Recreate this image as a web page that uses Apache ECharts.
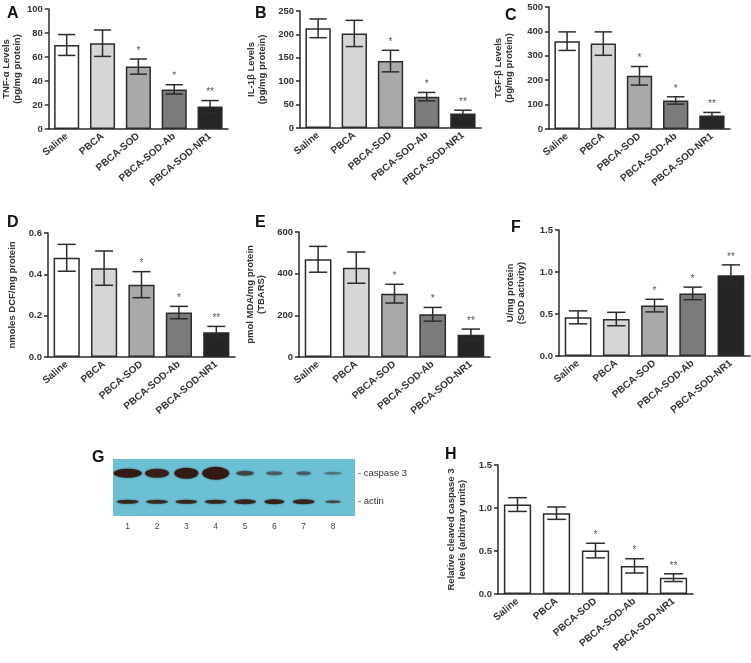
<!DOCTYPE html>
<html><head><meta charset="utf-8">
<script src="https://cdn.jsdelivr.net/npm/echarts@6/dist/echarts.min.js"></script>
<style>html,body{margin:0;padding:0;background:#fff}#c{width:751px;height:663px}</style>
</head><body><div id="c"></div>
<script>
const categories = ['Saline', 'PBCA', 'PBCA-SOD', 'PBCA-SOD-Ab', 'PBCA-SOD-NR1'];
const stars = ['', '', '*', '*', '**'];

const tnfMean = [70, 71.5, 52, 33, 18.7];
const tnfErr  = [8.7, 11, 6.3, 3.9, 5];
const il1Mean = [213, 202, 143, 67, 31];
const il1Err  = [20, 28, 23, 9, 7];
const tgfMean = [360, 350, 218, 117, 55];
const tgfErr  = [38, 48, 38, 15, 13];
const dcfMean = [0.48, 0.43, 0.35, 0.215, 0.12];
const dcfErr  = [0.065, 0.083, 0.063, 0.03, 0.028];
const mdaMean = [469, 429, 304, 205, 107];
const mdaErr  = [62, 75, 45, 33, 27];
const sodMean = [0.46, 0.44, 0.60, 0.745, 0.96];
const sodErr  = [0.077, 0.08, 0.075, 0.075, 0.125];
const casMean = [1.04, 0.94, 0.505, 0.327, 0.19];
const casErr  = [0.08, 0.072, 0.085, 0.083, 0.045];

const lanes = [1, 2, 3, 4, 5, 6, 7, 8];
const blotRows = ['actin', 'caspase 3'];
const caspBandW = [28, 24, 24, 27, 18, 17, 15, 18];
const caspBandH = [9, 9, 11, 13, 5, 4, 4, 3];
const caspBandI = [0.95, 0.9, 0.95, 0.98, 0.6, 0.45, 0.45, 0.35];
const actinBandW = [22, 22, 22, 22, 22, 20, 22, 16];
const actinBandH = [4, 4, 4, 4, 5, 5, 5, 3];
const actinBandI = [0.85, 0.8, 0.85, 0.85, 0.85, 0.9, 0.85, 0.6];

const FONT = '"Liberation Sans", Arial, sans-serif';
const INK = '#2b2b2b';
const greyFills = ['#ffffff', '#d6d6d6', '#a9a9a9', '#7b7b7b', '#252525'];

const panels = [
  {letter: 'A', lx: 2, ly: 1, grid: {left: 46, top: 9, width: 182, height: 120}, mean: tnfMean, err: tnfErr, max: 100, interval: 20, dec: 0, name: 'TNF-α Levels\n(pg/mg protein)', gap: 20, fills: greyFills},
  {letter: 'B', lx: 250, ly: 1, grid: {left: 300, top: 11, width: 181, height: 117}, mean: il1Mean, err: il1Err, max: 250, interval: 50, dec: 0, name: 'IL-1β Levels\n(pg/mg protein)', gap: 32, fills: greyFills},
  {letter: 'C', lx: 500, ly: 3, grid: {left: 549, top: 7, width: 181, height: 122}, mean: tgfMean, err: tgfErr, max: 500, interval: 100, dec: 0, name: 'TGF-β Levels\n(pg/mg protein)', gap: 34, fills: greyFills},
  {letter: 'D', lx: 2, ly: 210, grid: {left: 48, top: 233, width: 187, height: 124}, mean: dcfMean, err: dcfErr, max: 0.6, interval: 0.2, dec: 1, name: 'nmoles DCF/mg protein', gap: 30, fills: greyFills},
  {letter: 'E', lx: 250, ly: 210, grid: {left: 299, top: 232, width: 191, height: 125}, mean: mdaMean, err: mdaErr, max: 600, interval: 200, dec: 0, name: 'pmol MDA/mg protein\n(TBARS)', gap: 32, fills: greyFills},
  {letter: 'F', lx: 506, ly: 215, grid: {left: 559, top: 230, width: 191, height: 126}, mean: sodMean, err: sodErr, max: 1.5, interval: 0.5, dec: 1, name: 'U/mg protein\n(SOD activity)', gap: 32, fills: greyFills},
  {letter: 'H', lx: 440, ly: 442, grid: {left: 498, top: 465, width: 195, height: 129}, mean: casMean, err: casErr, max: 1.5, interval: 0.5, dec: 1, name: 'Relative cleaved caspase 3\nlevels (arbitrary units)', gap: 30, fills: ['#fff', '#fff', '#fff', '#fff', '#fff']}
];

const grids = [], xAxes = [], yAxes = [], series = [], titles = [];
panels.forEach((p, i) => {
  grids.push(Object.assign({containLabel: false}, p.grid));
  titles.push({text: p.letter, left: p.lx, top: p.ly, textStyle: {fontFamily: FONT, fontSize: 16, fontWeight: 'bold', color: '#111'}});
  xAxes.push({
    type: 'category', gridIndex: i, data: categories,
    axisLine: {lineStyle: {color: INK, width: 1.5}},
    axisTick: {alignWithLabel: true, length: 4, lineStyle: {color: INK, width: 1.5}},
    axisLabel: {interval: 0, rotate: 40, margin: 6, fontFamily: FONT, fontSize: 10, fontWeight: 'bold', color: '#333'}
  });
  yAxes.push({
    type: 'value', gridIndex: i, min: 0, max: p.max, interval: p.interval,
    splitLine: {show: false},
    axisLine: {show: true, lineStyle: {color: INK, width: 1.5}},
    axisTick: {show: true, length: 4, lineStyle: {color: INK, width: 1.5}},
    axisLabel: {margin: 6, fontFamily: FONT, fontSize: 9.5, fontWeight: 'bold', color: '#333', formatter: v => v.toFixed(p.dec)},
    name: p.name, nameLocation: 'middle', nameGap: p.gap,
    nameTextStyle: {fontFamily: FONT, fontSize: 9.5, fontWeight: 'bold', color: '#333', lineHeight: 11}
  });
  series.push({
    type: 'bar', xAxisIndex: i, yAxisIndex: i, barCategoryGap: '30%',
    data: p.mean.map((v, k) => ({value: v, itemStyle: {color: p.fills[k]}})),
    itemStyle: {borderColor: INK, borderWidth: 1.5},
    silent: true, animation: false
  });
  series.push({
    type: 'custom', xAxisIndex: i, yAxisIndex: i, z: 5, animation: false, silent: true,
    data: p.mean.map((v, k) => [k, v, p.err[k]]),
    renderItem: (params, api) => {
      const x = api.value(0), m = api.value(1), e = api.value(2);
      const t = api.coord([x, m + e]), b = api.coord([x, m - e]);
      const hw = api.size([1, 0])[0] * 0.24;
      const st = {stroke: INK, lineWidth: 1.5};
      const s = stars[params.dataIndex];
      const kids = [
        {type: 'line', shape: {x1: t[0], y1: t[1], x2: b[0], y2: b[1]}, style: st},
        {type: 'line', shape: {x1: t[0] - hw, y1: t[1], x2: t[0] + hw, y2: t[1]}, style: st},
        {type: 'line', shape: {x1: b[0] - hw, y1: b[1], x2: b[0] + hw, y2: b[1]}, style: st}
      ];
      if (s) kids.push({type: 'text', style: {text: s, x: t[0], y: t[1] - 3, align: 'center', verticalAlign: 'bottom', fontFamily: FONT, fontSize: 10, fontWeight: 'normal', fill: '#555'}});
      return {type: 'group', children: kids};
    }
  });
});

// Western blot panel G
const gi = panels.length;
titles.push({text: 'G', left: 87, top: 445, textStyle: {fontFamily: FONT, fontSize: 16, fontWeight: 'bold', color: '#111'}});
grids.push({left: 113, top: 459, width: 242, height: 57, show: true, backgroundColor: '#6cc0d4', borderWidth: 0});
xAxes.push({type: 'value', gridIndex: gi, min: 0.5, max: 8.75, splitLine: {show: false}, axisLine: {show: false}, axisTick: {show: false},
  axisLabel: {customValues: lanes, margin: 6, fontFamily: FONT, fontSize: 8.5, color: '#444'}});
yAxes.push({type: 'category', gridIndex: gi, data: blotRows, position: 'right', axisLine: {show: false}, axisTick: {show: false},
  axisLabel: {formatter: '- {value}', margin: 3, fontFamily: FONT, fontSize: 9.5, color: '#333'}});
function bands(row, W, H, I) {
  return lanes.map((l, k) => ({value: [l, row, W[k], H[k]], itemStyle: {opacity: I[k]}}));
}
series.push({type: 'scatter', xAxisIndex: gi, yAxisIndex: gi, animation: false, silent: true,
  symbol: 'circle', symbolSize: v => [v[2], v[3]],
  itemStyle: {color: '#33170f', shadowBlur: 2, shadowColor: 'rgba(40,20,15,0.6)'},
  data: bands('caspase 3', caspBandW, caspBandH, caspBandI).concat(bands('actin', actinBandW, actinBandH, actinBandI))});

const chart = echarts.init(document.getElementById('c'), null, {renderer: 'canvas'});
chart.setOption({animation: false, backgroundColor: '#fff', title: titles, grid: grids, xAxis: xAxes, yAxis: yAxes, series: series});
</script></body></html>
